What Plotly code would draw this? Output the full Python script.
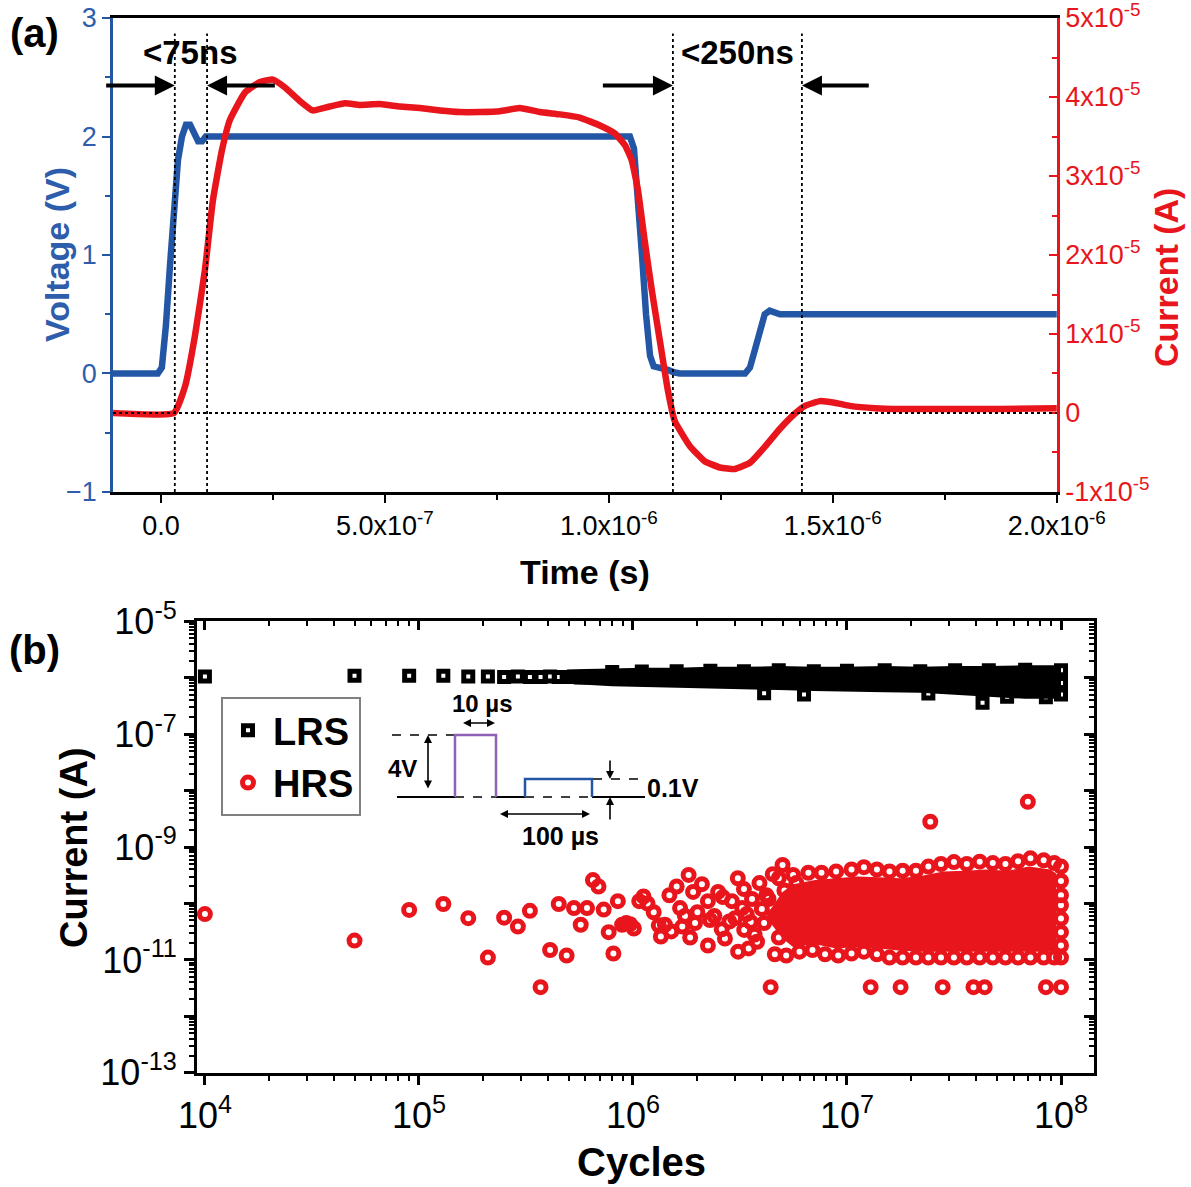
import plotly.graph_objects as go

# ---------------- DATA ----------------
# Panel (a): pulse response
volt_t_ns = [-107, -7, 2, 11, 20, 29, 38, 47, 56, 65, 74, 83, 92, 100, 114, 300, 500, 700, 900,
             1047, 1056, 1065, 1074, 1083, 1092, 1100, 1118, 1132, 1145, 1158, 1304, 1315, 1326,
             1337, 1348, 1359, 1371, 1382, 2000]
volt_v = [0, 0, 0.05, 0.4, 0.9, 1.4, 1.8, 2.0, 2.1, 2.1, 2.02, 1.96, 1.96, 2.0, 2.0, 2.0, 2.0, 2.0, 2.0,
          2.0, 1.9, 1.5, 1.0, 0.5, 0.15, 0.06, 0.05, 0.03, 0.01, 0, 0, 0.05, 0.2,
          0.38, 0.5, 0.53, 0.51, 0.5, 0.5]

curr_t_ns = [-107, 29, 54, 76, 98, 116, 136, 154, 188, 221, 250, 277, 310, 339, 377, 411, 444, 489,
             533, 578, 623, 667, 712, 757, 801, 846, 891, 935, 980, 1013, 1036, 1051, 1065, 1080,
             1096, 1114, 1132, 1147, 1181, 1214, 1248, 1281, 1315, 1348, 1382, 1415, 1438, 1471,
             1504, 1538, 1594, 1650, 1761, 1873, 2000]
curr_1e5A = [0.0, 0.0, 0.34, 0.98, 1.80, 2.69, 3.32, 3.71, 4.06, 4.19, 4.22, 4.12, 3.95, 3.83, 3.88,
             3.92, 3.90, 3.91, 3.88, 3.86, 3.83, 3.81, 3.81, 3.82, 3.86, 3.81, 3.78, 3.74, 3.64,
             3.54, 3.39, 3.20, 2.82, 2.18, 1.55, 0.91, 0.28, -0.10, -0.42, -0.61, -0.69, -0.71,
             -0.63, -0.43, -0.20, -0.01, 0.09, 0.15, 0.13, 0.09, 0.06, 0.05, 0.05, 0.05, 0.06]

marker_times_ns = [31, 103, 1143, 1431]           # dotted guide lines
arrow_pairs_ns = [(31, -129), (103, 261), (1143, 980), (1431, 1587)]  # (head, tail)

time_ticks = [0, 5e-7, 1e-6, 1.5e-6, 2e-6]
time_labels = ["0.0", "5.0x10<sup>-7</sup>", "1.0x10<sup>-6</sup>", "1.5x10<sup>-6</sup>", "2.0x10<sup>-6</sup>"]
volt_ticks = [-1, 0, 1, 2, 3]
cur_ticks = [-1e-5, 0, 1e-5, 2e-5, 3e-5, 4e-5, 5e-5]
cur_labels = ["-1x10<sup>-5</sup>", "0", "1x10<sup>-5</sup>", "2x10<sup>-5</sup>", "3x10<sup>-5</sup>",
              "4x10<sup>-5</sup>", "5x10<sup>-5</sup>"]

# Panel (b): endurance
lrs_cycles = [1e4, 5e4, 9e4, 1.3e5, 1.7e5, 2.1e5, 2.5e5, 2.9e5, 3.3e5, 3.7e5, 4.1e5, 4.5e5, 4.9e5,
              5.3e5, 5.7e5, 6.1e5,
              8e5, 1.1e6, 1.6e6, 2.3e6, 3.3e6, 4.8e6, 7e6, 1e7, 1.5e7, 2.2e7, 3.2e7,
              4.6e7, 6.8e7, 1e8,
              4.1e6, 6.3e6, 2.4e7, 4.3e7, 5.6e7, 8.5e7, 1e8, 1e8]
lrs_current = [1.05e-6, 1.08e-6, 1.08e-6, 1.08e-6, 1.05e-6, 1.05e-6, 1.02e-6, 1.05e-6, 1.02e-6,
               1.02e-6, 1.05e-6, 1.02e-6, 1.02e-6,
               1.05e-6, 1.0e-6, 1.05e-6,
               1.25e-6, 1.28e-6, 1.3e-6, 1.32e-6, 1.3e-6, 1.35e-6, 1.3e-6, 1.32e-6,
               1.35e-6, 1.3e-6, 1.35e-6, 1.35e-6, 1.38e-6, 1.35e-6,
               5.3e-7, 5.0e-7, 5.2e-7, 3.6e-7, 4.6e-7, 4.5e-7, 5.0e-7, 8e-7]
# visible envelope of the over-plotted LRS band
lrs_band_cycles = [4.6e5, 6e5, 8e5, 1.1e6, 1.6e6, 2.3e6, 3.3e6, 4.8e6, 7e6, 1e7, 1.5e7, 2.2e7,
                   3.2e7, 4.6e7, 6.8e7, 1e8]
lrs_band_top = [1.35e-6, 1.42e-6, 1.45e-6, 1.5e-6, 1.5e-6, 1.55e-6, 1.55e-6, 1.6e-6, 1.55e-6,
                1.55e-6, 1.6e-6, 1.55e-6, 1.6e-6, 1.6e-6, 1.65e-6, 1.65e-6]
lrs_band_bottom = [8e-7, 7.5e-7, 7e-7, 6.8e-7, 6.6e-7, 6.4e-7, 6.2e-7, 6e-7, 5.8e-7, 5.6e-7,
                   5.5e-7, 5.4e-7, 5.0e-7, 4.6e-7, 4.2e-7, 4.2e-7]

hrs_cycles = [1e4, 5e4, 9e4, 1.3e5, 1.7e5, 2.1e5, 2.5e5, 2.9e5, 3.3e5, 3.7e5, 4.1e5, 4.5e5, 4.9e5,
              5.3e5, 5.7e5, 6.1e5, 6.5e5, 6.9e5, 7.3e5, 7.7e5, 8.1e5, 8.5e5, 8.9e5, 9.3e5, 9.7e5, 1.01e6,
              1.07e6, 1.12e6, 1.17e6, 1.32e6, 1.35e6, 1.41e6, 1.48e6, 1.51e6, 1.66e6, 1.70e6, 1.82e6,
              1.91e6, 1.95e6, 2.24e6, 2.29e6, 2.24e6, 2.63e6, 2.69e6, 2.82e6, 3.09e6, 3.24e6, 3.31e6,
              3.47e6, 3.55e6, 3.8e6, 4.2e6, 4.4e6, 5.0e6,
              1.25e6, 1.6e6, 1.75e6, 1.85e6, 2.0e6, 2.1e6, 2.4e6, 2.5e6, 2.6e6, 2.9e6, 3.0e6, 3.1e6,
              3.3e6, 3.4e6, 3.6e6, 3.7e6, 3.9e6, 4.0e6, 4.1e6, 4.3e6, 4.5e6, 4.6e6, 4.8e6, 5.1e6,
              5.3e6, 5.5e6, 5.8e6, 6.2e6,
              4.8e6, 5.6e6, 6.6e6, 7.6e6, 8.9e6, 1.05e7, 1.2e7, 1.38e7, 1.58e7, 1.82e7, 2.1e7,
              2.4e7, 2.75e7, 3.16e7, 3.63e7, 4.17e7, 4.8e7, 5.5e7, 6.3e7, 7.2e7, 8.3e7, 9.3e7, 1e8,
              4.6e6, 5.2e6, 6.0e6, 6.9e6, 7.9e6, 9.1e6, 1.05e7, 1.2e7, 1.38e7, 1.58e7, 1.82e7,
              2.1e7, 2.4e7, 2.75e7, 3.16e7, 3.63e7, 4.17e7, 4.8e7, 5.5e7, 6.3e7, 7.2e7, 8.3e7, 9.3e7, 1e8,
              1e8, 1e8, 1e8, 1e8, 1e8, 1e8,
              1.29e7, 1.78e7, 2.8e7, 3.9e7, 4.4e7, 8.5e7, 1e8,
              2.45e7, 7.0e7]
hrs_current = [6.5e-11, 2.2e-11, 7.7e-11, 9.8e-11, 5.5e-11, 1.1e-11, 5.6e-11, 3.9e-11, 7.4e-11, 3.3e-12,
               1.5e-11, 9.8e-11, 1.2e-11, 8.3e-11, 4.2e-11, 8.3e-11, 2.6e-10, 2.0e-10, 7.8e-11, 3.1e-11,
               1.3e-11, 1.1e-10, 4.2e-11, 4.5e-11, 4.3e-11, 3.6e-11,
               1.1e-10, 1.33e-10, 1.0e-10, 4.1e-11, 2.6e-11, 4.2e-11, 1.4e-10, 3.2e-11, 8.3e-11, 3.9e-11,
               3.2e-10, 1.6e-10, 4.5e-11, 1.1e-10, 5.1e-11, 1.8e-11, 1.3e-10, 2.4e-11, 4.8e-11, 2.8e-10,
               8.3e-11, 3.4e-11, 1.6e-11, 4.7e-11, 2.1e-11, 1.4e-10, 3.3e-12, 4.8e-10,
               7e-11, 2.0e-10, 6e-11, 2.5e-11, 7e-11, 2.2e-10, 6e-11, 1.6e-10, 3.5e-11, 1.1e-10, 5.5e-11,
               1.4e-11, 1.8e-10, 6.5e-11, 1.2e-10, 2.8e-11, 2.3e-10, 8e-11, 4.5e-11, 1.2e-10, 3.3e-10,
               6e-11, 2.5e-11, 1.7e-10, 9e-11, 4e-11, 2.3e-10, 1.5e-10,
               2.8e-10, 3.2e-10, 3.5e-10, 3.5e-10, 3.7e-10, 4.0e-10, 4.4e-10, 4.0e-10, 3.7e-10,
               3.8e-10, 3.8e-10, 4.5e-10, 5.0e-10, 5.4e-10, 5.0e-10, 5.5e-10, 5.2e-10, 5.0e-10, 5.6e-10,
               6.3e-10, 5.8e-10, 5.2e-10, 4.5e-10,
               1.26e-11, 1.2e-11, 1.4e-11, 1.5e-11, 1.26e-11, 1.2e-11, 1.3e-11, 1.4e-11,
               1.26e-11, 1.1e-11, 1.1e-11, 1.1e-11, 1.1e-11, 1.1e-11, 1.1e-11, 1.1e-11, 1.1e-11,
               1.1e-11, 1.1e-11, 1.1e-11, 1.1e-11, 1.1e-11, 1.1e-11, 1.1e-11,
               2.5e-10, 1.4e-10, 9.3e-11, 5.4e-11, 3.1e-11, 1.8e-11,
               3.3e-12, 3.3e-12, 3.3e-12, 3.3e-12, 3.3e-12, 3.3e-12, 3.3e-12,
               2.8e-9, 6.3e-9]
# solid (over-plotted) HRS core
hrs_core_cycles = [4.3e6, 5.0e6, 5.6e6, 7.1e6, 8.9e6, 1.12e7, 1.41e7, 1.78e7, 2.24e7, 2.82e7, 3.55e7,
                   4.47e7, 5.62e7, 7.08e7, 8.91e7, 9.5e7]
hrs_core_hi = [7e-11, 1.6e-10, 2.2e-10, 2.6e-10, 2.8e-10, 3.0e-10, 2.9e-10, 2.8e-10, 3.1e-10, 3.7e-10,
               3.8e-10, 4.0e-10, 3.8e-10, 4.5e-10, 4.0e-10, 3.4e-10]
hrs_core_lo = [5e-11, 2.4e-11, 1.7e-11, 1.9e-11, 1.6e-11, 1.7e-11, 1.6e-11, 1.45e-11, 1.4e-11,
               1.4e-11, 1.4e-11, 1.4e-11, 1.4e-11, 1.4e-11, 1.4e-11, 1.4e-11]

cyc_ticks = [1e4, 1e5, 1e6, 1e7, 1e8]
cyc_labels = ["10<sup>4</sup>", "10<sup>5</sup>", "10<sup>6</sup>", "10<sup>7</sup>", "10<sup>8</sup>"]
cur_exps = [-13, -12, -11, -10, -9, -8, -7, -6, -5]
cur_exp_labels = ["10<sup>-13</sup>", " ", "10<sup>-11</sup>", " ", "10<sup>-9</sup>", " ",
                  "10<sup>-7</sup>", " ", "10<sup>-5</sup>"]

# ---------------- STYLE / LAYOUT ----------------
W, H = 1191, 1187
FONT = "Liberation Sans, Arial, sans-serif"
BLUE = "#2456a6"
BLUE_TXT = "#2d5dab"
RED = "#e8161c"
PURPLE = "#8f62b8"


def px(x):
    return x / W


def py(y):
    return 1 - y / H


fig = go.Figure()

# Panel (a)
fig.add_trace(go.Scatter(x=[t * 1e-9 for t in volt_t_ns], y=volt_v, mode="lines",
                         line=dict(color=BLUE, width=6.5), xaxis="x", yaxis="y",
                         showlegend=False, hoverinfo="skip"))
fig.add_trace(go.Scatter(x=[t * 1e-9 for t in curr_t_ns], y=[c * 1e-5 for c in curr_1e5A],
                         mode="lines", line=dict(color=RED, width=6.5, shape="spline", smoothing=0.4),
                         xaxis="x", yaxis="y2", showlegend=False, hoverinfo="skip"))

# Panel (b) over-plotted cores
fig.add_trace(go.Scatter(x=lrs_band_cycles + lrs_band_cycles[::-1],
                         y=lrs_band_top + lrs_band_bottom[::-1],
                         fill="toself", fillcolor="black", mode="lines", line=dict(width=0, color="black"),
                         xaxis="x2", yaxis="y3", showlegend=False, hoverinfo="skip"))
fig.add_trace(go.Scatter(x=hrs_core_cycles + hrs_core_cycles[::-1], y=hrs_core_hi + hrs_core_lo[::-1],
                         fill="toself", fillcolor=RED, mode="lines", line=dict(width=0, color=RED),
                         xaxis="x2", yaxis="y3", showlegend=False, hoverinfo="skip"))
fig.add_trace(go.Scatter(x=lrs_cycles, y=lrs_current, mode="markers", name="<b>LRS</b>",
                         marker=dict(symbol="square-open", size=9, color="black",
                                     line=dict(width=5, color="black")),
                         xaxis="x2", yaxis="y3", hoverinfo="skip"))
fig.add_trace(go.Scatter(x=hrs_cycles, y=hrs_current, mode="markers", name="<b>HRS</b>",
                         marker=dict(symbol="circle-open", size=11, color=RED,
                                     line=dict(width=5, color=RED)),
                         xaxis="x2", yaxis="y3", hoverinfo="skip"))
# invisible anchors so mirrored tick axes are drawn
fig.add_trace(go.Scatter(x=lrs_cycles[:1], y=lrs_current[:1], mode="markers", marker=dict(opacity=0),
                         xaxis="x3", yaxis="y3", showlegend=False, hoverinfo="skip"))
fig.add_trace(go.Scatter(x=lrs_cycles[:1], y=lrs_current[:1], mode="markers", marker=dict(opacity=0),
                         xaxis="x2", yaxis="y4", showlegend=False, hoverinfo="skip"))

RIGHT_B = 1094
xr_b = [3.963, 4 + (RIGHT_B - 205) / 214]
minor_cyc = [k * 10 ** e for e in range(3, 9) for k in range(2, 10)]
minor_cur = [k * 10.0 ** e for e in range(-13, -5) for k in range(2, 10)]
tickfont_b = dict(size=36, color="black", family=FONT)

fig.update_layout(
    width=W, height=H, margin=dict(l=0, r=0, t=0, b=0, autoexpand=False),
    paper_bgcolor="white", plot_bgcolor="white", font=dict(family=FONT, color="black"),
    xaxis=dict(domain=[px(113), px(1057)], range=[-1.07e-7, 2.0005e-6], anchor="y",
               tickmode="array", tickvals=time_ticks, ticktext=time_labels,
               ticks="outside", ticklen=8, tickwidth=2, tickcolor="black",
               showline=True, linecolor="black", linewidth=2.5, mirror=True,
               showgrid=False, zeroline=False, tickfont=dict(size=27, color="black", family=FONT),
               ticklabeloverflow="allow",
               minor=dict(ticks="outside", ticklen=5, tickwidth=2, dtick=2.5e-7, tick0=0,
                          tickcolor="black", showgrid=False)),
    yaxis=dict(domain=[py(492), py(18)], range=[-1.0001, 3.0001], anchor="x",
               tickmode="array", tickvals=volt_ticks,
               ticks="outside", ticklen=8, tickwidth=2, tickcolor=BLUE,
               showline=True, linecolor=BLUE, linewidth=2.5, showgrid=False, zeroline=False,
               tickfont=dict(size=27, color=BLUE_TXT, family=FONT), ticklabeloverflow="allow",
               minor=dict(ticks="outside", ticklen=5, tickwidth=2, dtick=0.5, tick0=0,
                          tickcolor=BLUE, showgrid=False)),
    yaxis2=dict(overlaying="y", side="right", anchor="x", range=[-1.00015e-5, 5.00015e-5],
                tickmode="array", tickvals=cur_ticks, ticktext=cur_labels,
                ticks="inside", ticklen=8, tickwidth=2, tickcolor=RED,
                showline=True, linecolor=RED, linewidth=2.5, showgrid=False, zeroline=False,
                tickfont=dict(size=27, color=RED, family=FONT), ticklabeloverflow="allow",
                minor=dict(ticks="inside", ticklen=5, tickwidth=2, dtick=0.5e-5, tick0=0,
                           tickcolor=RED, showgrid=False)),
    xaxis2=dict(domain=[px(197), px(RIGHT_B)], anchor="y3", type="log", range=xr_b,
                tickmode="array", tickvals=cyc_ticks, ticktext=cyc_labels,
                ticks="outside", ticklen=9, tickwidth=2.5, tickcolor="black",
                showline=True, linecolor="black", linewidth=3, showgrid=False, zeroline=False,
                tickfont=tickfont_b, ticklabeloverflow="allow",
                minor=dict(ticks="outside", ticklen=5, tickwidth=2, tickvals=minor_cyc,
                           tickcolor="black", showgrid=False)),
    xaxis3=dict(overlaying="x2", side="top", anchor="y3", type="log", range=xr_b,
                tickmode="array", tickvals=cyc_ticks, showticklabels=False,
                ticks="inside", ticklen=9, tickwidth=2.5, tickcolor="black",
                showline=True, linecolor="black", linewidth=3, showgrid=False, zeroline=False,
                minor=dict(ticks="inside", ticklen=5, tickwidth=2, tickvals=minor_cyc,
                           tickcolor="black", showgrid=False)),
    yaxis3=dict(domain=[py(1073), py(621)], anchor="x2", type="log", range=[-13.002, -4.998],
                tickmode="array", tickvals=[10.0 ** e for e in cur_exps], ticktext=cur_exp_labels,
                ticks="outside", ticklen=10, tickwidth=2.5, tickcolor="black",
                showline=True, linecolor="black", linewidth=3, showgrid=False, zeroline=False,
                tickfont=tickfont_b, ticklabeloverflow="allow",
                minor=dict(ticks="outside", ticklen=5, tickwidth=1.5, tickvals=minor_cur,
                           tickcolor="black", showgrid=False)),
    yaxis4=dict(overlaying="y3", side="right", anchor="x2", type="log", range=[-13.002, -4.998],
                tickmode="array", tickvals=[10.0 ** e for e in cur_exps], showticklabels=False,
                ticks="inside", ticklen=10, tickwidth=2.5, tickcolor="black",
                showline=True, linecolor="black", linewidth=3, showgrid=False, zeroline=False,
                minor=dict(ticks="inside", ticklen=5, tickwidth=1.5, tickvals=minor_cur,
                           tickcolor="black", showgrid=False)),
    showlegend=True,
    legend=dict(x=px(221), y=py(697), xanchor="left", yanchor="top", bgcolor="white",
                bordercolor="#808080", borderwidth=2, font=dict(size=38, family=FONT, color="black"),
                itemsizing="trace", traceorder="normal", tracegroupgap=0, itemwidth=40),
)

# Dotted guide lines
for t in marker_times_ns:
    fig.add_shape(type="line", xref="x", yref="y", x0=t * 1e-9, x1=t * 1e-9, y0=-1, y1=2.87,
                  line=dict(color="black", width=1.8, dash="dot"))
fig.add_shape(type="line", xref="x", yref="y2", x0=-1.07e-7, x1=2.0e-6, y0=0, y1=0,
              line=dict(color="black", width=1.8, dash="dot"))

for head, tail in arrow_pairs_ns:
    fig.add_annotation(x=head * 1e-9, y=2.43, ax=tail * 1e-9, ay=2.43, xref="x", yref="y",
                       axref="x", ayref="y", showarrow=True, arrowhead=2, arrowsize=1,
                       arrowwidth=4, arrowcolor="black", text=" ")


def label(x, y, text, size, color="black", angle=0):
    fig.add_annotation(x=px(x), y=py(y), xref="paper", yref="paper", text=text, showarrow=False,
                       font=dict(size=size, color=color, family=FONT), textangle=angle,
                       xanchor="center", yanchor="middle")


label(190, 52, "<b>&lt;75ns</b>", 33)
label(737, 52, "<b>&lt;250ns</b>", 33)
label(34, 33, "<b>(a)</b>", 40)
label(34, 650, "<b>(b)</b>", 40)
label(57, 255, "<b>Voltage (V)</b>", 34, BLUE_TXT, -90)
label(1166, 278, "<b>Current (A)</b>", 34, RED, -90)
label(585, 572, "<b>Time (s)</b>", 34)
label(74, 848, "<b>Current (A)</b>", 38, "black", -90)
label(641, 1162, "<b>Cycles</b>", 40)

# ---- inset pulse schematic ----
def seg(x0, y0, x1, y1, dash=None, width=2, color="black"):
    fig.add_shape(type="line", xref="paper", yref="paper", x0=px(x0), y0=py(y0), x1=px(x1), y1=py(y1),
                  line=dict(color=color, width=width, dash=dash))


seg(397, 797, 455, 797)
seg(455, 797, 496, 797, dash="dash", width=1.5)
seg(496, 797, 525, 797)
seg(525, 797, 592, 797, dash="dash", width=1.5)
seg(592, 797, 645, 797)
seg(392, 735, 470, 735, dash="dash", width=1.5)
seg(575, 779, 645, 779, dash="dash", width=1.5)


def pulse(pts, color):
    d = "M " + " L ".join(f"{px(a):.5f},{py(b):.5f}" for a, b in pts)
    fig.add_shape(type="path", xref="paper", yref="paper", path=d, line=dict(color=color, width=2.5))


pulse([(455, 797), (455, 735), (496, 735), (496, 797)], PURPLE)
pulse([(525, 797), (525, 779), (592, 779), (592, 797)], BLUE)


def arr(xh, yh, dx, dy, both=False):
    fig.add_annotation(x=px(xh), y=py(yh), xref="paper", yref="paper", ax=dx, ay=dy,
                       showarrow=True, arrowhead=2, startarrowhead=2, arrowsize=1, startarrowsize=1,
                       arrowwidth=1.6, arrowcolor="black", text=" ",
                       arrowside="end+start" if both else "end")


arr(428, 735, 0, 62, both=True)
arr(495, 723, -35, 0, both=True)
arr(590, 814, -93, 0, both=True)
arr(610, 779, 0, -27)
arr(610, 797, 0, 31)

label(402, 768, "<b>4V</b>", 24)
label(482, 703, "<b>10 µs</b>", 24)
label(673, 788, "<b>0.1V</b>", 25)
label(560, 836, "<b>100 µs</b>", 25)

fig.write_html("out.html", config={"displayModeBar": False},
               post_script="document.body.style.margin='0px';")
